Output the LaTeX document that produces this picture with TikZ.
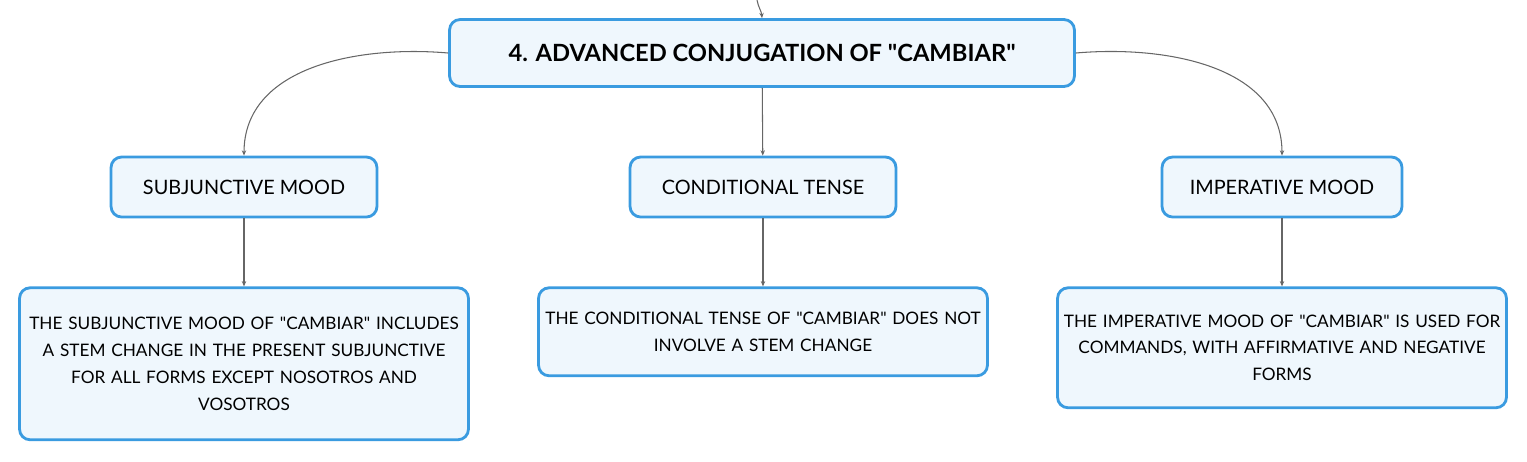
\documentclass[tikz,border=0pt]{standalone}
\usepackage{fontspec}
\setmainfont{Lato}[Ligatures=TeXOff]
\usetikzlibrary{positioning,arrows.meta}
\definecolor{boxblue}{HTML}{3A9BE0}
\definecolor{boxfill}{HTML}{EFF7FD}

\begin{document}
\begin{tikzpicture}[x=0.02cm,y=-0.02cm,node distance=1.36cm,%
		   box/.style={draw=boxblue,fill=boxfill,line width=1.6pt,rounded corners=6pt},
		   topic/.style={box,minimum width=12.5cm,minimum height=1.34cm,font=\bfseries\fontsize{13.5}{16}\selectfont},
		   mood/.style={box,minimum height=1.2cm,font=\fontsize{11.3}{13}\selectfont},
		   detail/.style={box,text width=8.9cm,inner xsep=0.04cm,align=center,font=\fontsize{9.8}{15.3}\selectfont},
		   link/.style={-{Stealth[length=3pt,width=2.5pt]},black!60,line width=0.6pt}]

	\useasboundingbox (0,0) rectangle (1527,461);

	\node[topic](root) at (762,53) {4. ADVANCED CONJUGATION OF "CAMBIAR"};
	\coordinate (from) at (757,0);
	\draw[link] (from) to[out=-80,in=95] (root.north);

	    \foreach \id/\x/\w/\h/\mood/\desc in {%
	       subj/244/5.32/3.04/SUBJUNCTIVE MOOD/{THE SUBJUNCTIVE MOOD OF "CAMBIAR" INCLUDES\\A STEM CHANGE IN THE PRESENT SUBJUNCTIVE\\FOR ALL FORMS EXCEPT NOSOTROS AND\\VOSOTROS},%
	       cond/763/5.32/1.76/CONDITIONAL TENSE/{THE CONDITIONAL TENSE OF "CAMBIAR" DOES NOT\\INVOLVE A STEM CHANGE},%
	       imp/1282/4.8/2.4/IMPERATIVE MOOD/{THE IMPERATIVE MOOD OF "CAMBIAR" IS USED FOR\\COMMANDS, WITH AFFIRMATIVE AND NEGATIVE\\FORMS}%
	       } { \node[mood,minimum width=\w cm](\id) at (\x,187) {\mood};
		   \node[detail,minimum height=\h cm,below=of \id.south,anchor=north](\id-d) {\desc};
		   \draw[link] (\id) -- (\id-d);
	       }

	\draw[link] (root) -- (cond);
	\draw[link] (root.west) to[out=175,in=90] (subj.north);% curved side branches
	\draw[link] (root.east) to[out=5,in=90] (imp.north);

\end{tikzpicture}
\end{document}
